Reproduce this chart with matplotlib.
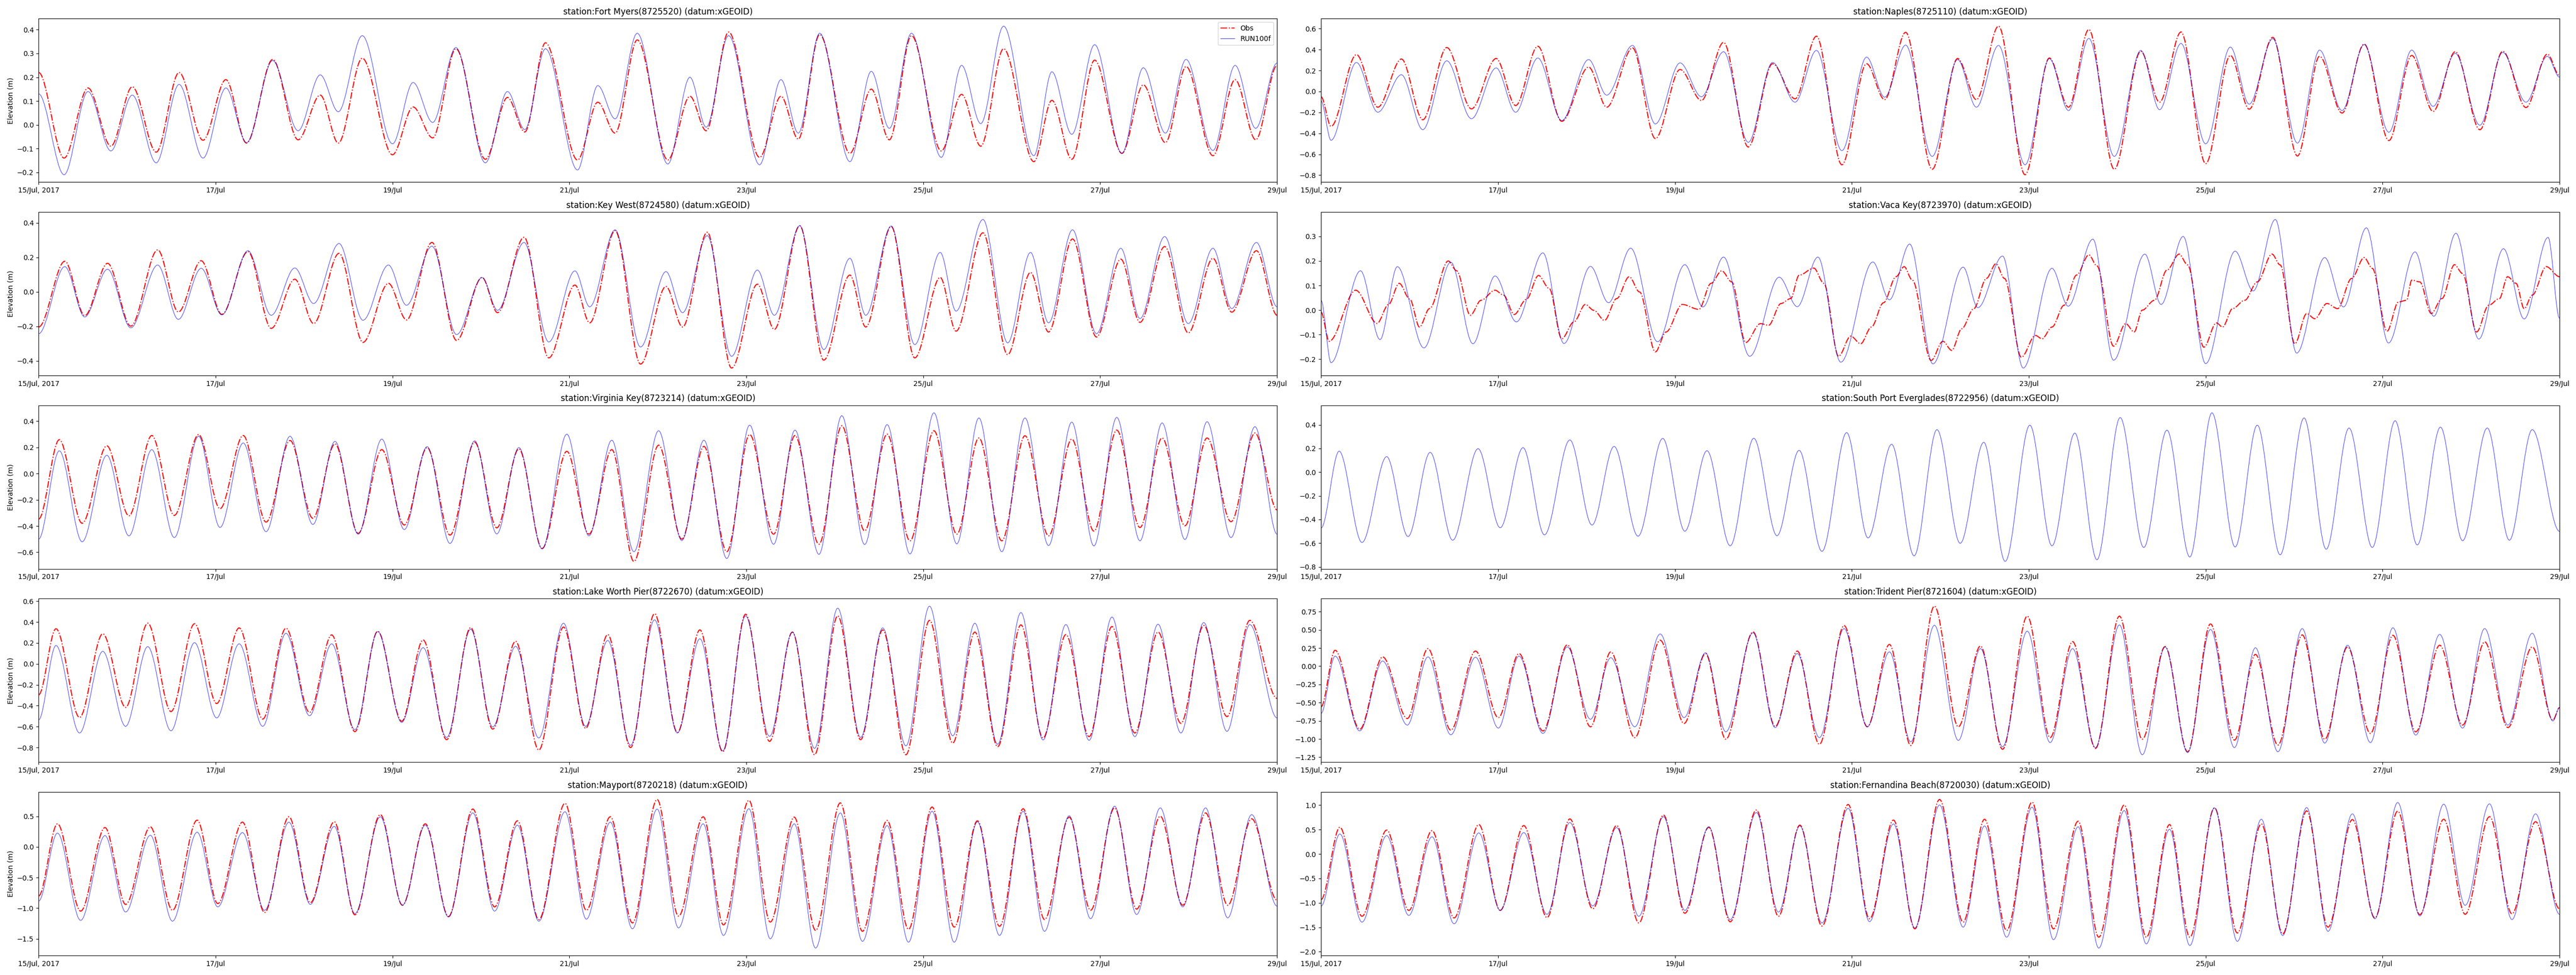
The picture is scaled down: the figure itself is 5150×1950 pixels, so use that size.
import datetime as dt
import matplotlib
matplotlib.use('Agg')
import matplotlib.pyplot as plt
import matplotlib.dates as mdates
from matplotlib.path import Path
from matplotlib.patches import PathPatch
from matplotlib.lines import Line2D

# time axis: hours after 15 Jul 2017 00:00, extrema
start = dt.datetime(2017, 7, 15)
end = dt.datetime(2017, 7, 29)
tick_days = [15, 17, 19, 21, 23, 25, 27, 29]
tick_labels = ['15/Jul, 2017', '17/Jul', '19/Jul', '21/Jul', '23/Jul', '25/Jul', '27/Jul', '29/Jul']

# ---- Fort Myers
fort_myers_hours = [0, 6.9, 13.4, 19.6, 25.4, 31.9, 38.1, 44.6, 50.8, 56.4, 63.5, 70.4, 76.4, 81.3,
                    87.8, 96.0, 101.6, 106.9, 113.2, 121.2, 127.2, 131.9, 137.5, 146.2, 151.7, 156.4,
                    162.4, 170.7, 176.7, 181.1, 187.2, 195.6, 201.4, 206.1, 211.9, 220.1, 225.9, 230.8,
                    236.8, 244.9, 250.4, 255.6, 261.8, 270.0, 274.9, 280.3, 286.5, 293.9, 299.7, 305.7,
                    311.3, 318.6, 324.6, 330.2, 336]
fort_myers_obs = [0.22, -0.14, 0.155, -0.09, 0.16, -0.115, 0.22, -0.065, 0.19, -0.077, 0.275, -0.063,
                  0.125, -0.077, 0.28, -0.126, 0.075, -0.055, 0.32, -0.145, 0.115, -0.03, 0.345, -0.148,
                  0.095, -0.035, 0.357, -0.148, 0.12, -0.025, 0.39, -0.137, 0.12, -0.06, 0.38, -0.12,
                  0.15, -0.063, 0.375, -0.11, 0.128, -0.09, 0.32, -0.155, 0.103, -0.145, 0.272, -0.12,
                  0.168, -0.075, 0.245, -0.13, 0.19, -0.063, 0.25]
fort_myers_model = [0.13, -0.21, 0.14, -0.11, 0.125, -0.16, 0.17, -0.14, 0.155, -0.075, 0.27, -0.025,
                    0.21, 0.055, 0.375, -0.08, 0.178, 0.01, 0.325, -0.16, 0.14, -0.02, 0.32, -0.19,
                    0.165, 0.025, 0.385, -0.165, 0.2, -0.01, 0.375, -0.168, 0.19, -0.035, 0.385, -0.155,
                    0.225, -0.015, 0.385, -0.137, 0.25, 0.005, 0.415, -0.13, 0.223, -0.04, 0.337, -0.12,
                    0.24, -0.035, 0.275, -0.108, 0.25, -0.015, 0.26]

# ---- Naples
naples_hours = [0, 2.7, 9.6, 15.4, 21.8, 27.6, 34.1, 40.8, 47.5, 52.8, 58.8, 65.3, 72.6, 77.5, 84.5,
                90.7, 97.4, 103.2, 109.2, 115.9, 122.5, 128.6, 134.4, 141.3, 148.0, 152.9, 158.6, 165.8,
                172.7, 177.8, 183.8, 191.0, 197.6, 202.8, 208.3, 215.2, 222.4, 227.5, 233.3, 240.0,
                246.7, 251.8, 258.2, 264.9, 270.9, 277.0, 283.0, 289.7, 295.9, 301.7, 307.7, 314.4,
                320.6, 326.9, 332.7, 336]
naples_obs = [-0.05, -0.333, 0.352, -0.15, 0.31, -0.27, 0.42, -0.166, 0.315, -0.134, 0.432, -0.285,
              0.233, -0.15, 0.416, -0.45, 0.21, -0.086, 0.469, -0.53, 0.265, -0.07, 0.528, -0.70,
              0.265, -0.078, 0.565, -0.743, 0.315, -0.078, 0.624, -0.795, 0.32, -0.15, 0.592, -0.743,
              0.384, -0.102, 0.568, -0.689, 0.344, -0.169, 0.517, -0.616, 0.336, -0.206, 0.453, -0.469,
              0.344, -0.19, 0.38, -0.365, 0.384, -0.153, 0.357, 0.153]
naples_model = [-0.09, -0.466, 0.277, -0.198, 0.16, -0.365, 0.293, -0.26, 0.225, -0.198, 0.32, -0.277,
                0.305, -0.035, 0.44, -0.31, 0.273, -0.05, 0.38, -0.485, 0.277, -0.102, 0.392, -0.565,
                0.328, -0.054, 0.443, -0.62, 0.305, -0.15, 0.44, -0.70, 0.313, -0.182, 0.507, -0.62,
                0.392, -0.174, 0.459, -0.50, 0.424, -0.121, 0.504, -0.493, 0.395, -0.182, 0.448, -0.389,
                0.395, -0.142, 0.364, -0.322, 0.373, -0.102, 0.336, 0.137]

# ---- Key West
key_west_hours = [0, 7.1, 12.5, 18.7, 25.0, 32.3, 37.9, 44.1, 49.7, 56.8, 63.1, 69.5, 74.6, 81.5, 88.0,
                  94.9, 99.8, 106.7, 113.4, 120.3, 124.5, 131.7, 138.4, 145.5, 149.5, 156.4, 163.3,
                  170.2, 174.7, 181.4, 188.0, 195.0, 199.6, 206.5, 213.0, 220.1, 224.4, 231.3, 237.7,
                  244.6, 248.9, 256.2, 262.9, 269.1, 274.0, 280.5, 287.0, 293.6, 298.8, 305.5, 311.9,
                  318.6, 323.7, 330.4, 336]
key_west_obs = [-0.204, 0.177, -0.138, 0.165, -0.199, 0.243, -0.117, 0.18, -0.131, 0.233, -0.212, 0.073,
                -0.184, 0.223, -0.293, 0.049, -0.163, 0.286, -0.282, 0.083, -0.121, 0.316, -0.383, 0.039,
                -0.18, 0.354, -0.419, 0.031, -0.204, 0.345, -0.442, 0.044, -0.218, 0.383, -0.396, 0.097,
                -0.204, 0.379, -0.383, 0.083, -0.228, 0.342, -0.364, 0.112, -0.233, 0.306, -0.262, 0.189,
                -0.177, 0.262, -0.238, 0.194, -0.118, 0.238, -0.136]
key_west_model = [-0.243, 0.146, -0.146, 0.131, -0.209, 0.155, -0.16, 0.136, -0.134, 0.238, -0.136, 0.138,
                  -0.068, 0.28, -0.165, 0.155, -0.078, 0.264, -0.248, 0.083, -0.107, 0.286, -0.291, 0.121,
                  -0.087, 0.359, -0.32, 0.117, -0.121, 0.325, -0.374, 0.126, -0.136, 0.383, -0.335, 0.194,
                  -0.136, 0.381, -0.306, 0.228, -0.112, 0.419, -0.296, 0.228, -0.18, 0.359, -0.243, 0.252,
                  -0.155, 0.32, -0.184, 0.252, -0.097, 0.286, -0.087]

# ---- Vaca Key (obs and model peak at different times)
vaca_key_obs_hours = [0, 2.2, 9.4, 15.2, 18.3, 21.2, 24.1, 26.7, 29.4, 34.5, 36.8, 40.5, 43.4, 47.2, 49.5,
                      52.4, 55.7, 59.0, 61.9, 65.3, 68.6, 71.7, 74.0, 76.9, 80.2, 83.6, 86.4, 90.7, 93.6,
                      98.0, 102.5, 105.8, 108.7, 111.4, 115.2, 119.2, 121.4, 124.8, 127.4, 129.7, 133.7,
                      136.4, 140.4, 143.7, 146.4, 149.3, 152.6, 156.0, 158.2, 160.4, 165.5, 168.7, 171.1,
                      173.8, 177.1, 180.5, 183.1, 185.4, 190.0, 193.8, 195.6, 198.3, 201.6, 205.0, 208.3,
                      210.5, 215.0, 218.3, 220.6, 222.8, 226.1, 229.5, 232.8, 235.1, 239.5, 242.9, 244.6,
                      247.3, 250.6, 254.0, 258.0, 260.2, 264.2, 267.4, 269.6, 272.9, 275.8, 279.6, 283.0,
                      285.2, 289.2, 292.3, 294.5, 295.9, 298.1, 301.2, 304.1, 307.5, 309.7, 313.5, 316.8,
                      319.7, 321.9, 324.2, 326.4, 328.6, 332.4, 336]
vaca_key_obs = [-0.008, -0.127, 0.081, -0.054, 0.023, 0.109, 0.044, -0.069, 0.006, 0.2, 0.16, -0.021,
                0.04, 0.081, 0.061, -0.018, 0.044, 0.141, 0.088, -0.117, -0.048, 0.023, -0.001, -0.042,
                0.047, 0.136, 0.074, -0.17, -0.089, 0.023, 0.003, 0.109, 0.16, 0.115, -0.132, -0.055,
                -0.062, 0.027, 0.047, 0.142, 0.171, 0.109, -0.188, -0.106, -0.137, -0.069, 0.03, 0.136,
                0.177, 0.122, -0.205, -0.127, -0.164, -0.076, 0.006, 0.129, 0.189, 0.129, -0.192, -0.103,
                -0.117, -0.069, 0.02, 0.143, 0.225, 0.18, -0.147, -0.055, -0.089, 0.0, 0.04, 0.163,
                0.228, 0.184, -0.151, -0.052, -0.069, 0.006, 0.04, 0.115, 0.228, 0.184, -0.137, -0.014,
                -0.035, 0.027, 0.006, 0.129, 0.214, 0.17, -0.086, 0.033, 0.04, 0.122, 0.115, -0.014,
                0.047, 0.185, 0.149, -0.089, 0.02, 0.047, 0.136, 0.109, 0.006, 0.061, 0.177, 0.136]
vaca_key_model_hours = [0, 2.7, 10.7, 16.0, 20.7, 27.9, 35.2, 41.2, 47.2, 53.0, 60.2, 65.9, 73.1, 78.0,
                        84.0, 91.3, 98.7, 103.6, 109.2, 116.3, 124.3, 129.2, 134.8, 141.0, 149.7, 154.2,
                        159.7, 166.0, 174.2, 178.2, 184.9, 190.5, 198.3, 202.7, 209.4, 215.0, 223.5, 227.9,
                        233.9, 240.0, 248.0, 252.9, 258.9, 264.7, 272.3, 277.4, 283.6, 289.6, 296.8, 301.9,
                        307.9, 314.1, 320.8, 326.4, 332.9, 336]
vaca_key_model = [0.04, -0.214, 0.16, -0.12, 0.177, -0.154, 0.195, -0.137, 0.139, -0.048, 0.233, -0.136,
                  0.178, 0.03, 0.252, -0.129, 0.185, 0.013, 0.216, -0.188, 0.134, 0.014, 0.216, -0.212,
                  0.196, 0.042, 0.269, -0.219, 0.175, 0.01, 0.22, -0.236, 0.17, 0.016, 0.289, -0.204,
                  0.228, 0.023, 0.30, -0.218, 0.24, 0.078, 0.369, -0.175, 0.214, 0.013, 0.335, -0.134,
                  0.237, -0.025, 0.313, -0.118, 0.25, -0.036, 0.296, -0.033]

# ---- Virginia Key
virginia_key_hours = [0, 5.6, 11.8, 18.5, 24.5, 30.7, 36.8, 43.4, 49.2, 55.5, 61.7, 68.2, 74.4, 80.4,
                      86.7, 93.1, 99.2, 105.4, 111.6, 118.3, 124.3, 130.3, 136.6, 143.3, 149.3, 155.5,
                      161.5, 168.2, 174.5, 180.5, 186.7, 192.9, 199.4, 205.2, 211.7, 217.9, 224.1, 230.2,
                      236.4, 242.9, 249.1, 255.1, 261.3, 267.6, 274.0, 280.3, 286.3, 292.5, 298.8, 304.8,
                      311.0, 317.0, 323.5, 330.0, 336]
virginia_key_obs = [-0.347, 0.259, -0.379, 0.212, -0.322, 0.291, -0.319, 0.298, -0.268, 0.291, -0.37,
                    0.253, -0.341, 0.227, -0.456, 0.183, -0.392, 0.199, -0.469, 0.24, -0.414, 0.189,
                    -0.571, 0.17, -0.462, 0.183, -0.67, 0.217, -0.50, 0.208, -0.596, 0.298, -0.462, 0.291,
                    -0.539, 0.365, -0.437, 0.301, -0.513, 0.327, -0.462, 0.272, -0.513, 0.289, -0.475,
                    0.263, -0.439, 0.332, -0.411, 0.272, -0.398, 0.272, -0.367, 0.31, -0.277]
virginia_key_model = [-0.50, 0.174, -0.52, 0.14, -0.475, 0.183, -0.488, 0.285, -0.411, 0.234, -0.443,
                      0.285, -0.388, 0.246, -0.462, 0.263, -0.427, 0.206, -0.533, 0.25, -0.46, 0.199,
                      -0.575, 0.301, -0.475, 0.255, -0.596, 0.327, -0.511, 0.255, -0.648, 0.37, -0.539,
                      0.332, -0.616, 0.442, -0.541, 0.374, -0.613, 0.464, -0.536, 0.425, -0.596, 0.425,
                      -0.549, 0.393, -0.552, 0.429, -0.513, 0.387, -0.503, 0.396, -0.488, 0.358, -0.462]

# ---- South Port Everglades (model only)
port_everglades_hours = [0, 4.9, 11.1, 17.8, 23.6, 29.6, 35.7, 42.6, 48.6, 54.8, 60.6, 67.5, 73.5, 79.5,
                         86.0, 92.7, 98.7, 104.7, 111.0, 117.4, 123.7, 129.7, 135.9, 142.6, 148.4, 154.8,
                         160.9, 167.1, 173.4, 179.8, 185.6, 192.3, 198.3, 204.5, 210.5, 216.8, 223.2, 229.5,
                         235.7, 241.7, 248.0, 254.0, 260.2, 266.7, 272.7, 278.9, 285.2, 291.4, 297.4, 303.7,
                         309.7, 316.4, 322.4, 328.6, 336]
port_everglades_model = [-0.473, 0.177, -0.594, 0.131, -0.544, 0.167, -0.575, 0.198, -0.47, 0.207, -0.53,
                         0.272, -0.447, 0.217, -0.541, 0.285, -0.499, 0.181, -0.622, 0.286, -0.537, 0.184,
                         -0.669, 0.334, -0.556, 0.235, -0.707, 0.359, -0.601, 0.252, -0.754, 0.397, -0.622,
                         0.33, -0.74, 0.461, -0.636, 0.355, -0.717, 0.501, -0.632, 0.397, -0.698, 0.458,
                         -0.651, 0.373, -0.636, 0.434, -0.615, 0.38, -0.579, 0.373, -0.575, 0.359, -0.50]

# ---- Lake Worth Pier
lake_worth_hours = [0, 4.7, 11.1, 17.4, 23.6, 29.6, 35.9, 42.3, 48.3, 54.4, 60.8, 67.1, 73.5, 79.5, 85.8,
                    92.0, 98.5, 104.3, 110.7, 117.2, 123.2, 129.4, 135.7, 142.4, 148.4, 154.4, 160.6,
                    167.1, 173.3, 179.4, 185.6, 191.8, 198.3, 204.5, 210.5, 216.8, 223.0, 229.0, 235.3,
                    241.7, 248.0, 254.0, 260.2, 266.5, 272.5, 278.7, 285.0, 291.2, 297.4, 303.7, 309.9,
                    316.1, 322.4, 328.6, 336]
lake_worth_obs = [-0.296, 0.336, -0.512, 0.288, -0.416, 0.389, -0.456, 0.384, -0.379, 0.344, -0.528, 0.341,
                  -0.464, 0.277, -0.648, 0.312, -0.549, 0.229, -0.725, 0.347, -0.624, 0.216, -0.824, 0.352,
                  -0.616, 0.28, -0.80, 0.48, -0.656, 0.325, -0.84, 0.475, -0.741, 0.304, -0.869, 0.459,
                  -0.725, 0.325, -0.869, 0.416, -0.757, 0.304, -0.792, 0.373, -0.709, 0.28, -0.696, 0.357,
                  -0.661, 0.304, -0.568, 0.368, -0.504, 0.416, -0.33]
lake_worth_model = [-0.536, 0.176, -0.661, 0.12, -0.597, 0.165, -0.64, 0.203, -0.517, 0.192, -0.597, 0.293,
                    -0.496, 0.192, -0.629, 0.309, -0.56, 0.155, -0.704, 0.331, -0.603, 0.168, -0.709, 0.389,
                    -0.597, 0.224, -0.779, 0.421, -0.661, 0.24, -0.832, 0.459, -0.693, 0.304, -0.808, 0.533,
                    -0.704, 0.344, -0.784, 0.552, -0.688, 0.389, -0.768, 0.491, -0.728, 0.376, -0.731, 0.448,
                    -0.696, 0.379, -0.661, 0.395, -0.645, 0.376, -0.517]

# ---- Trident Pier
trident_pier_hours = [0, 3.8, 10.5, 16.7, 23.4, 29.0, 35.2, 41.9, 48.1, 53.7, 60.2, 66.8, 73.1, 78.6, 85.1,
                      92.0, 98.5, 104.3, 109.8, 117.2, 123.2, 129.2, 135.2, 141.9, 148.2, 154.2, 160.0,
                      166.4, 172.9, 178.9, 184.9, 191.6, 197.8, 203.9, 210.1, 216.6, 222.8, 229.0, 235.1,
                      241.3, 247.8, 253.5, 259.6, 266.2, 272.3, 278.5, 284.7, 290.8, 297.0, 303.5, 309.7,
                      315.7, 322.0, 328.6, 334.2, 336]
trident_pier_obs = [-0.558, 0.219, -0.866, 0.128, -0.718, 0.242, -0.878, 0.208, -0.706, 0.174, -0.889,
                    0.293, -0.832, 0.197, -0.981, 0.357, -0.786, 0.174, -1.003, 0.471, -0.827, 0.208,
                    -1.072, 0.558, -0.832, 0.299, -1.088, 0.825, -0.832, 0.277, -1.141, 0.688, -0.981,
                    0.338, -1.129, 0.688, -1.003, 0.27, -1.175, 0.581, -1.015, 0.162, -1.083, 0.43,
                    -1.003, 0.265, -0.923, 0.425, -0.901, 0.288, -0.809, 0.334, -0.843, 0.265, -0.741, -0.569]
trident_pier_model = [-0.649, 0.139, -0.889, 0.071, -0.809, 0.128, -0.942, 0.123, -0.85, 0.139, -0.923,
                      0.265, -0.729, 0.117, -0.832, 0.443, -0.706, 0.185, -0.901, 0.459, -0.843, 0.174,
                      -0.981, 0.517, -0.832, 0.197, -1.038, 0.562, -1.019, 0.242, -1.106, 0.482, -1.049,
                      0.242, -1.118, 0.567, -1.216, 0.265, -1.186, 0.505, -1.118, 0.254, -1.175, 0.517,
                      -1.056, 0.288, -1.049, 0.528, -0.946, 0.437, -0.85, 0.517, -0.809, 0.453, -0.752, -0.569]

# ---- Mayport
mayport_hours = [0, 5.1, 11.4, 18.0, 23.6, 30.3, 36.3, 43.0, 48.6, 55.3, 61.3, 67.9, 73.7, 80.2, 85.8,
                 92.7, 98.7, 104.9, 111.2, 117.8, 123.7, 129.9, 135.7, 142.8, 148.6, 155.1, 161.1, 167.8,
                 173.6, 180.3, 185.8, 192.7, 198.5, 205.0, 210.8, 217.5, 223.5, 230.2, 236.0, 242.4,
                 248.4, 254.7, 260.7, 267.1, 272.9, 279.6, 285.4, 291.9, 297.9, 304.3, 310.4, 316.6,
                 322.6, 329.1, 336]
mayport_obs = [-0.801, 0.377, -1.048, 0.316, -0.938, 0.327, -1.034, 0.437, -0.925, 0.404, -1.07, 0.492,
               -0.911, 0.41, -1.108, 0.527, -0.952, 0.377, -1.136, 0.618, -0.979, 0.426, -1.185, 0.711,
               -1.034, 0.492, -1.24, 0.774, -1.13, 0.492, -1.273, 0.76, -1.226, 0.486, -1.363, 0.719,
               -1.377, 0.432, -1.344, 0.651, -1.308, 0.426, -1.295, 0.623, -1.185, 0.486, -1.034, 0.637,
               -1.015, 0.5, -0.952, 0.555, -0.952, 0.459, -0.87]
mayport_model = [-0.884, 0.226, -1.199, 0.185, -1.062, 0.19, -1.212, 0.24, -0.979, 0.234, -1.034, 0.404,
                 -0.938, 0.336, -1.089, 0.492, -0.952, 0.355, -1.144, 0.555, -1.048, 0.355, -1.212, 0.574,
                 -1.179, 0.404, -1.336, 0.618, -1.322, 0.377, -1.445, 0.623, -1.5, 0.377, -1.651, 0.555,
                 -1.541, 0.349, -1.555, 0.582, -1.555, 0.41, -1.445, 0.582, -1.377, 0.508, -1.171, 0.664,
                 -1.103, 0.637, -0.979, 0.637, -1.158, 0.527, -0.966]

# ---- Fernandina Beach
fernandina_hours = [0, 5.1, 11.1, 17.8, 23.8, 30.1, 36.1, 42.8, 48.6, 55.0, 61.3, 67.5, 73.7, 80.2, 86.2,
                    92.9, 98.7, 105.2, 111.0, 118.1, 124.1, 129.9, 135.9, 143.0, 148.8, 155.3, 161.1,
                    167.8, 174.2, 180.0, 186.0, 192.9, 198.7, 205.4, 211.0, 217.9, 223.9, 230.2, 235.7,
                    242.4, 248.6, 255.1, 260.9, 267.4, 273.2, 279.8, 285.9, 292.1, 298.1, 304.6, 310.4,
                    317.0, 323.1, 329.5, 336]
fernandina_obs = [-0.932, 0.548, -1.274, 0.49, -1.154, 0.479, -1.308, 0.603, -1.154, 0.582, -1.301, 0.719,
                  -1.12, 0.582, -1.411, 0.798, -1.212, 0.548, -1.387, 0.901, -1.274, 0.592, -1.473, 1.014,
                  -1.325, 0.695, -1.531, 1.116, -1.394, 0.712, -1.565, 1.062, -1.531, 0.671, -1.702, 1.003,
                  -1.702, 0.603, -1.702, 0.945, -1.616, 0.616, -1.634, 0.884, -1.497, 0.705, -1.308, 0.877,
                  -1.24, 0.712, -1.233, 0.764, -1.223, 0.661, -1.12]
fernandina_model = [-1.068, 0.411, -1.394, 0.377, -1.257, 0.353, -1.428, 0.432, -1.154, 0.438, -1.233, 0.644,
                    -1.062, 0.541, -1.274, 0.764, -1.154, 0.558, -1.342, 0.849, -1.188, 0.575, -1.411, 0.935,
                    -1.384, 0.616, -1.514, 1.003, -1.497, 0.575, -1.702, 0.959, -1.753, 0.558, -1.925, 0.89,
                    -1.839, 0.507, -1.873, 0.945, -1.788, 0.712, -1.668, 0.952, -1.582, 0.822, -1.325, 1.055,
                    -1.267, 1.021, -1.051, 1.027, -1.342, 0.822, -1.233]

# panel table, filled row by row (left, right)
stations = [
    ('Fort Myers', '8725520', fort_myers_hours, fort_myers_obs, fort_myers_hours, fort_myers_model),
    ('Naples', '8725110', naples_hours, naples_obs, naples_hours, naples_model),
    ('Key West', '8724580', key_west_hours, key_west_obs, key_west_hours, key_west_model),
    ('Vaca Key', '8723970', vaca_key_obs_hours, vaca_key_obs, vaca_key_model_hours, vaca_key_model),
    ('Virginia Key', '8723214', virginia_key_hours, virginia_key_obs, virginia_key_hours, virginia_key_model),
    ('South Port Everglades', '8722956', None, None, port_everglades_hours, port_everglades_model),
    ('Lake Worth Pier', '8722670', lake_worth_hours, lake_worth_obs, lake_worth_hours, lake_worth_model),
    ('Trident Pier', '8721604', trident_pier_hours, trident_pier_obs, trident_pier_hours, trident_pier_model),
    ('Mayport', '8720218', mayport_hours, mayport_obs, mayport_hours, mayport_model),
    ('Fernandina Beach', '8720030', fernandina_hours, fernandina_obs, fernandina_hours, fernandina_model),
]


def smooth_line(ax, hours, values, **style):
    # tide curve: cubic segments between the read extrema, flat at each extremum
    t0 = mdates.date2num(start)
    xs = [t0 + h / 24.0 for h in hours]
    verts = [(xs[0], values[0])]
    codes = [Path.MOVETO]
    for i in range(1, len(xs)):
        d = (xs[i] - xs[i - 1]) / 3.0
        verts += [(xs[i - 1] + d, values[i - 1]), (xs[i] - d, values[i]), (xs[i], values[i])]
        codes += [Path.CURVE4] * 3
    ax.add_patch(PathPatch(Path(verts, codes), fill=False, **style))
    ax.update_datalim(list(zip(xs, values)))


obs_style = dict(edgecolor='red', lw=1.5, linestyle='-.')
model_style = dict(edgecolor='blue', lw=0.7, alpha=0.8)

fig, axs = plt.subplots(5, 2, figsize=(51.5, 19.5), dpi=100)
fig.subplots_adjust(left=0.015, right=0.9936, top=0.9808, bottom=0.02, wspace=0.0355, hspace=0.183)

ticks = [dt.datetime(2017, 7, d) for d in tick_days]
for k, (name, sid, oh, ov, mh, mv) in enumerate(stations):
    ax = axs[k // 2, k % 2]
    ax.xaxis_date()
    if ov is not None:
        smooth_line(ax, oh, ov, **obs_style)
    smooth_line(ax, mh, mv, **model_style)
    ax.set_xlim(start, end)
    ax.autoscale_view(scalex=False)
    ax.set_xticks(ticks)
    ax.set_xticklabels(tick_labels)
    ax.set_title('station:%s(%s) (datum:xGEOID)' % (name, sid))
    if k % 2 == 0:
        ax.set_ylabel('Elevation (m)')

handles = [Line2D([], [], color='red', lw=1.5, ls='-.'),
           Line2D([], [], color='blue', lw=0.7, alpha=0.8)]
axs[0, 0].legend(handles, ['Obs', 'RUN100f'], loc='upper right')

fig.savefig('out.png', dpi=100)
